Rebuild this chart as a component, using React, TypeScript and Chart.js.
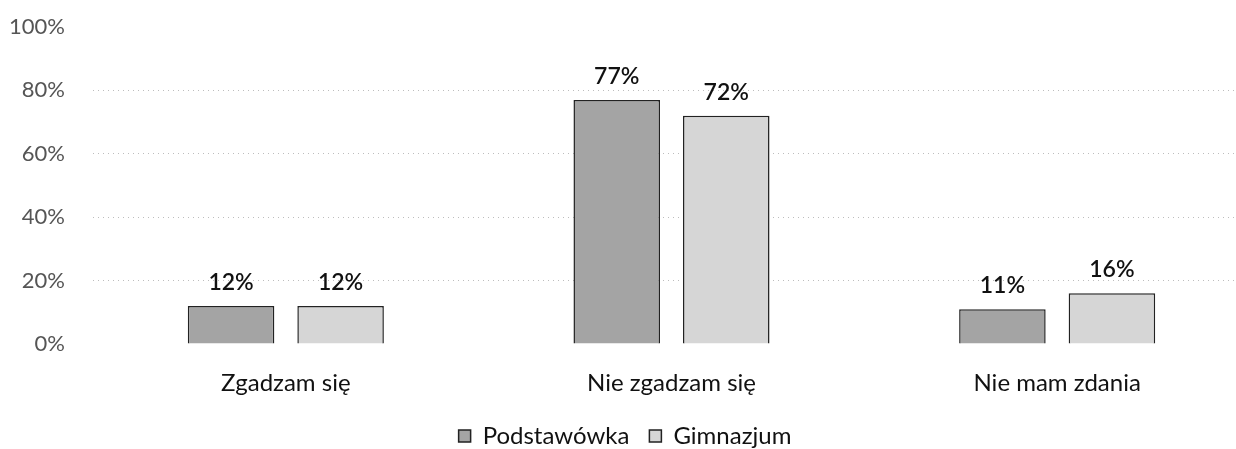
import React, { useEffect, useRef } from "react";
import { Chart, registerables } from "chart.js";

Chart.register(...registerables);

const categories = ["Zgadzam się", "Nie zgadzam się", "Nie mam zdania"];
const podstawowka = [12, 77, 11];
const gimnazjum = [12, 72, 16];
const seriesNames = ["Podstawówka", "Gimnazjum"];
const yTicks = [0, 20, 40, 60, 80, 100];

const FONT = "Lato, 'Noto Sans', sans-serif";

const valueLabels = {
  id: "valueLabels",
  afterDatasetsDraw(chart: any) {
    const ctx = chart.ctx;
    ctx.save();
    ctx.font = `600 23px ${FONT}`;
    ctx.fillStyle = "#111";
    ctx.textAlign = "center";
    ctx.textBaseline = "alphabetic";
    chart.data.datasets.forEach((ds: any, i: number) => {
      const meta = chart.getDatasetMeta(i);
      meta.data.forEach((bar: any, j: number) => {
        ctx.fillText(ds.data[j] + "%", bar.x, bar.y - 16);
      });
    });
    ctx.restore();
  },
};

export default function App() {
  const ref = useRef<HTMLCanvasElement>(null);
  useEffect(() => {
    document.body.style.overflow = "hidden";
    const chart = new Chart(ref.current!, {
      type: "bar",
      data: {
        labels: categories,
        datasets: [
          {
            label: seriesNames[0],
            data: podstawowka,
            backgroundColor: "#a4a4a4",
            borderColor: "#222",
            borderWidth: 1.5,
            categoryPercentage: 0.568,
            barPercentage: 0.79,
          },
          {
            label: seriesNames[1],
            data: gimnazjum,
            backgroundColor: "#d6d6d6",
            borderColor: "#222",
            borderWidth: 1.5,
            categoryPercentage: 0.568,
            barPercentage: 0.79,
          },
        ],
      },
      options: {
        animation: false,
        responsive: false,
        maintainAspectRatio: false,
        layout: { padding: { top: 27, right: 0, bottom: 0, left: 0 } },
        plugins: {
          tooltip: { enabled: false },
          legend: {
            position: "bottom",
            labels: {
              font: { family: FONT, size: 24 },
              color: "#111",
              boxWidth: 12,
              boxHeight: 12,
              padding: 20,
            },
          },
        },
        scales: {
          x: {
            grid: { display: false, drawTicks: false },
            border: { display: false },
            afterFit(scale: any) {
              scale.height = 60;
              scale.paddingLeft = 0;
              scale.paddingRight = 0;
            },
            ticks: {
              font: { family: FONT, size: 24 },
              color: "#111",
              padding: 25,
            },
          },
          y: {
            min: 0,
            max: 100,
            afterFit(scale: any) {
              scale.width = 93;
              scale.paddingTop = 0;
              scale.paddingBottom = 0;
            },
            afterBuildTicks(scale: any) {
              scale.ticks = yTicks.map((v) => ({ value: v }));
            },
            grid: {
              drawTicks: false,
              color: (c: any) =>
                c.tick && (c.tick.value === 0 || c.tick.value === 100) ? "rgba(0,0,0,0)" : "#bdbdbd",
              lineWidth: 1,
            },
            border: { display: false, dash: [1, 4] },
            ticks: {
              font: { family: FONT, size: 22 },
              color: "#555",
              padding: 28,
              callback: (v: any) => v + "%",
            },
          },
        },
      },
      plugins: [valueLabels],
    });
    return () => chart.destroy();
  }, []);
  return (
    <div style={{ position: "absolute", left: 0, top: 0, width: 1250, height: 458 }}>
      <canvas ref={ref} width={1250} height={458} />
    </div>
  );
}
